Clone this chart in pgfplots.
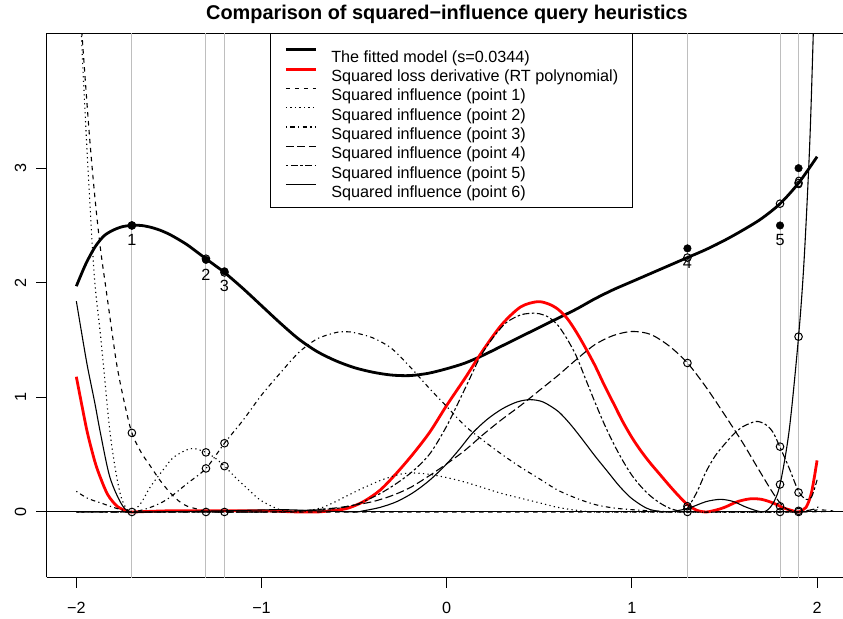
\documentclass[border=0pt]{standalone}
\usepackage{pgfplots}
\pgfplotsset{compat=1.18}
\usepackage{fontspec}
\setmainfont{Liberation Sans}
\definecolor{rred}{RGB}{255,0,0}
\definecolor{rgrey}{RGB}{190,190,190}
\begin{document}
\begin{tikzpicture}
\begin{axis}[
  scale only axis, width=796.3pt, height=544pt,
  xmin=-2.16, xmax=2.14, ymin=-0.57, ymax=4.177,
  axis y line*=left,
  xtick={-2,-1,0,1,2}, xticklabels={−2,−1,0,1,2},
  ytick={0,1,2,3}, yticklabels={},
  xtick pos=lower, ytick pos=left,
  tick align=outside, major tick length=10.5pt,
  tick style={black, line width=1pt},
  axis line style={line width=1pt},
  ticklabel style={font=\fontsize{16.2}{19}\selectfont},
  xticklabel shift=11pt,
  title={Comparison of squared−influence query heuristics},
  title style={font=\bfseries\fontsize{19.9}{23}\selectfont, at={(axis description cs:0.5027,1)}, anchor=base, yshift=7.8pt},
  legend style={at={(axis description cs:0.2804,1)}, anchor=north west, draw=black, line width=1pt, fill=white,
    font=\fontsize{16.2}{19}\selectfont, inner xsep=14pt, inner ysep=10pt, row sep=0.8pt, column sep=14pt,
    nodes={inner sep=0pt, text depth=0pt, text height=18.5pt}},
  legend cell align=left,
  legend image code/.code={\draw[#1] (0pt,0.32em) -- (30pt,0.32em);},
]
\coordinate (ll) at (rel axis cs:0,0);
\coordinate (ur) at (rel axis cs:1,1);
\coordinate (y0) at (axis cs:-2.16,0);
\coordinate (y1) at (axis cs:-2.16,1);
\coordinate (y2) at (axis cs:-2.16,2);
\coordinate (y3) at (axis cs:-2.16,3);
% filled observed points
\addplot[only marks, mark=*, mark size=3.8pt, black, forget plot] coordinates {
(-1.7,2.5) (-1.3,2.2) (-1.2,2.1) (1.3,2.3) (1.8,2.5) (1.9,3.0)};
% grey verticals
\addplot[rgrey, line width=1pt, forget plot] coordinates {(-1.7,-1) (-1.7,5)};
\addplot[rgrey, line width=1pt, forget plot] coordinates {(-1.3,-1) (-1.3,5)};
\addplot[rgrey, line width=1pt, forget plot] coordinates {(-1.2,-1) (-1.2,5)};
\addplot[rgrey, line width=1pt, forget plot] coordinates {(1.3,-1) (1.3,5)};
\addplot[rgrey, line width=1pt, forget plot] coordinates {(1.8,-1) (1.8,5)};
\addplot[rgrey, line width=1pt, forget plot] coordinates {(1.9,-1) (1.9,5)};
\addplot[black, line width=1pt, forget plot] coordinates {(-2.3,0) (2.3,0)};
% fitted model
\addplot[black, line width=2.8pt, smooth] coordinates {
(-2,1.97) (-1.95,2.16) (-1.9,2.31) (-1.85,2.41) (-1.8,2.46) (-1.75,2.49) (-1.7,2.50) (-1.65,2.50) (-1.6,2.485) (-1.55,2.46) (-1.5,2.425) (-1.45,2.38) (-1.4,2.33) (-1.35,2.27) (-1.3,2.21) (-1.25,2.15) (-1.2,2.09) (-1.1,1.95) (-1.0,1.80) (-0.9,1.65) (-0.8,1.51) (-0.7,1.40) (-0.6,1.32) (-0.5,1.26) (-0.4,1.22) (-0.3,1.195) (-0.2,1.19) (-0.1,1.21) (0,1.25) (0.1,1.30) (0.2,1.37) (0.3,1.45) (0.4,1.53) (0.5,1.61) (0.6,1.69) (0.7,1.77) (0.8,1.86) (0.9,1.94) (1.0,2.01) (1.1,2.08) (1.2,2.15) (1.3,2.22) (1.4,2.29) (1.5,2.37) (1.6,2.46) (1.7,2.56) (1.8,2.69) (1.9,2.87) (2.0,3.10)};
\addlegendentry{The fitted model (s=0.0344)}
% red
\addplot[rred, line width=2.8pt, smooth] coordinates {
(-2,1.18) (-1.97,0.93) (-1.94,0.69) (-1.9,0.44) (-1.87,0.30) (-1.83,0.15) (-1.78,0.05) (-1.73,0.01) (-1.7,0.0) (-1.5,0.01) (-1.2,0.01) (-1.0,0.01) (-0.8,0.0) (-0.7,0.0) (-0.63,0.01) (-0.54,0.03) (-0.45,0.09) (-0.36,0.19) (-0.27,0.34) (-0.18,0.51) (-0.09,0.70) (0.0,0.93) (0.1,1.17) (0.2,1.42) (0.3,1.64) (0.4,1.79) (0.49,1.835) (0.55,1.815) (0.6,1.77) (0.65,1.69) (0.7,1.57) (0.75,1.43) (0.8,1.28) (0.85,1.11) (0.9,0.95) (0.95,0.79) (1.0,0.65) (1.05,0.53) (1.1,0.425) (1.15,0.33) (1.2,0.235) (1.25,0.145) (1.3,0.065) (1.35,0.015) (1.4,0.0) (1.45,0.015) (1.5,0.04) (1.57,0.09) (1.64,0.115) (1.7,0.11) (1.76,0.08) (1.82,0.035) (1.87,0.01) (1.9,0.0) (1.94,0.04) (1.97,0.17) (2.0,0.45)};
\addlegendentry{Squared loss derivative (RT polynomial)}
% point 1 dashed
\addplot[black, line width=1.1pt, dash pattern=on 4.5pt off 4.5pt, smooth] coordinates {
(-2.0,4.9) (-1.97,4.18) (-1.93,3.3) (-1.9,2.75) (-1.87,2.3) (-1.84,1.95) (-1.81,1.6) (-1.78,1.27) (-1.74,0.95) (-1.7,0.69) (-1.65,0.52) (-1.6,0.40) (-1.55,0.28) (-1.5,0.18) (-1.45,0.10) (-1.4,0.05) (-1.33,0.02) (-1.25,0.0) (-0.5,0.0) (1.9,0.0) (2.0,0.02)};
\addlegendentry{Squared influence (point 1)}
% point 2 dotted
\addplot[black, line width=1.1pt, dash pattern=on 1.2pt off 3.3pt, smooth] coordinates {
(-2.0,6.0) (-1.975,4.3) (-1.95,3.4) (-1.92,2.5) (-1.9,2.0) (-1.87,1.55) (-1.85,1.22) (-1.82,0.72) (-1.79,0.38) (-1.76,0.14) (-1.73,0.03) (-1.7,0.0) (-1.65,0.08) (-1.6,0.22) (-1.53,0.37) (-1.48,0.47) (-1.42,0.53) (-1.37,0.555) (-1.3,0.52) (-1.25,0.47) (-1.2,0.40) (-1.14,0.30) (-1.08,0.21) (-1.02,0.12) (-0.97,0.07) (-0.9,0.02) (-0.82,0.0) (-0.75,0.01) (-0.67,0.04) (-0.6,0.09) (-0.54,0.14) (-0.45,0.21) (-0.35,0.28) (-0.25,0.33) (-0.18,0.34) (-0.1,0.33) (0.0,0.30) (0.1,0.26) (0.2,0.21) (0.3,0.16) (0.4,0.12) (0.5,0.08) (0.6,0.04) (0.7,0.015) (0.8,0.0) (1.0,0.0) (1.9,0.0) (2.0,0.05)};
\addlegendentry{Squared influence (point 2)}
% point 3 dotdash
\addplot[black, line width=1.1pt, dash pattern=on 1.2pt off 3.3pt on 4.5pt off 3.3pt, smooth] coordinates {
(-2,0.18) (-1.94,0.12) (-1.87,0.08) (-1.78,0.03) (-1.7,0.0) (-1.6,0.04) (-1.51,0.11) (-1.4,0.25) (-1.3,0.38) (-1.2,0.60) (-1.1,0.80) (-1.0,1.02) (-0.9,1.21) (-0.8,1.39) (-0.7,1.51) (-0.6,1.565) (-0.55,1.573) (-0.5,1.565) (-0.4,1.52) (-0.3,1.43) (-0.2,1.27) (-0.1,1.09) (0.0,0.92) (0.1,0.75) (0.2,0.62) (0.3,0.50) (0.4,0.39) (0.5,0.29) (0.6,0.19) (0.7,0.12) (0.8,0.065) (0.9,0.035) (1.0,0.02) (1.1,0.01) (1.3,0.0) (1.9,0.0) (2.0,0.02)};
\addlegendentry{Squared influence (point 3)}
% point 4 longdash
\addplot[black, line width=1.1pt, dash pattern=on 8pt off 3.5pt, smooth] coordinates {
(-2,0.0) (-1.0,0.0) (-0.8,0.01) (-0.6,0.035) (-0.5,0.06) (-0.4,0.09) (-0.3,0.14) (-0.2,0.21) (-0.1,0.31) (0.0,0.42) (0.1,0.54) (0.2,0.68) (0.3,0.81) (0.4,0.93) (0.5,1.06) (0.6,1.19) (0.7,1.33) (0.8,1.46) (0.9,1.54) (1.0,1.575) (1.1,1.55) (1.2,1.45) (1.3,1.30) (1.4,1.09) (1.5,0.85) (1.6,0.60) (1.67,0.41) (1.76,0.17) (1.81,0.06) (1.85,0.015) (1.9,0.0) (2.0,0.03)};
\addlegendentry{Squared influence (point 4)}
% point 5 twodash
\addplot[black, line width=1.1pt, dash pattern=on 2.5pt off 2.5pt on 7pt off 2.5pt, smooth] coordinates {
(-2,0.0) (-1.0,0.0) (-0.8,0.01) (-0.6,0.03) (-0.5,0.06) (-0.45,0.09) (-0.36,0.16) (-0.27,0.25) (-0.18,0.36) (-0.09,0.51) (0.0,0.75) (0.1,1.08) (0.18,1.35) (0.25,1.52) (0.32,1.65) (0.4,1.72) (0.47,1.735) (0.5,1.73) (0.55,1.70) (0.6,1.63) (0.65,1.51) (0.7,1.36) (0.75,1.16) (0.8,0.96) (0.85,0.77) (0.9,0.60) (0.95,0.45) (1.0,0.32) (1.05,0.22) (1.1,0.14) (1.15,0.08) (1.2,0.035) (1.25,0.01) (1.28,0.0) (1.3,0.03) (1.35,0.17) (1.4,0.35) (1.45,0.49) (1.5,0.59) (1.55,0.68) (1.6,0.745) (1.67,0.79) (1.72,0.765) (1.76,0.70) (1.8,0.565) (1.85,0.38) (1.9,0.18) (1.94,0.11) (1.97,0.13) (2.0,0.28)};
\addlegendentry{Squared influence (point 5)}
% point 6 solid
\addplot[black, line width=1.1pt, smooth] coordinates {
(-2,1.84) (-1.97,1.55) (-1.94,1.27) (-1.9,0.95) (-1.87,0.69) (-1.82,0.31) (-1.76,0.08) (-1.71,0.0) (-1.6,0.0) (-1.2,0.01) (-0.9,0.02) (-0.7,0.01) (-0.5,0.0) (-0.45,0.01) (-0.36,0.04) (-0.27,0.09) (-0.18,0.17) (-0.09,0.28) (0.0,0.42) (0.07,0.55) (0.14,0.69) (0.22,0.81) (0.3,0.90) (0.38,0.96) (0.45,0.98) (0.52,0.96) (0.6,0.88) (0.66,0.78) (0.72,0.66) (0.8,0.49) (0.87,0.35) (0.93,0.23) (0.99,0.13) (1.05,0.06) (1.1,0.02) (1.19,0.0) (1.3,0.03) (1.4,0.09) (1.48,0.11) (1.55,0.09) (1.62,0.04) (1.71,0.0) (1.76,0.07) (1.8,0.24) (1.85,0.72) (1.9,1.53) (1.93,2.2) (1.96,3.2) (1.98,4.2) (2.0,5.3)};
\addlegendentry{Squared influence (point 6)}
% open circles
\addplot[only marks, mark=o, mark size=3.8pt, black, line width=1pt, forget plot] coordinates {
(-1.7,2.5) (-1.7,0.69) (-1.7,0) (-1.3,2.21) (-1.3,0.52) (-1.3,0.38) (-1.3,0) (-1.2,2.09) (-1.2,0.60) (-1.2,0.40) (-1.2,0) (1.3,2.22) (1.3,1.30) (1.3,0.05) (1.3,0.03) (1.3,0.0) (1.8,2.69) (1.8,0.57) (1.8,0.24) (1.8,0.05) (1.8,0.0) (1.9,2.87) (1.9,1.53) (1.9,0.17) (1.9,0.01) (1.9,0.0)};
% labels
\node[font=\fontsize{16.2}{19}\selectfont, yshift=-14.5pt] at (axis cs:-1.7,2.5) {1};
\node[font=\fontsize{16.2}{19}\selectfont, yshift=-14.5pt] at (axis cs:-1.3,2.2) {2};
\node[font=\fontsize{16.2}{19}\selectfont, yshift=-14.5pt] at (axis cs:-1.2,2.1) {3};
\node[font=\fontsize{16.2}{19}\selectfont, yshift=-14.5pt] at (axis cs:1.3,2.3) {4};
\node[font=\fontsize{16.2}{19}\selectfont, yshift=-14.5pt] at (axis cs:1.8,2.5) {5};
\node[font=\fontsize{16.2}{19}\selectfont, yshift=-14.5pt] at (axis cs:1.9,3.0) {6};
\end{axis}
\node[rotate=90, inner sep=0pt, font=\fontsize{16.2}{19}\selectfont] at ([xshift=-26.2pt]y0) {0};
\node[rotate=90, inner sep=0pt, font=\fontsize{16.2}{19}\selectfont] at ([xshift=-26.2pt]y1) {1};
\node[rotate=90, inner sep=0pt, font=\fontsize{16.2}{19}\selectfont] at ([xshift=-26.2pt]y2) {2};
\node[rotate=90, inner sep=0pt, font=\fontsize{16.2}{19}\selectfont] at ([xshift=-26.2pt]y3) {3};
\pgfresetboundingbox
\path ([xshift=-46.7pt,yshift=-41.7pt]ll) rectangle ([yshift=33.3pt]ur);
\end{tikzpicture}
\end{document}
